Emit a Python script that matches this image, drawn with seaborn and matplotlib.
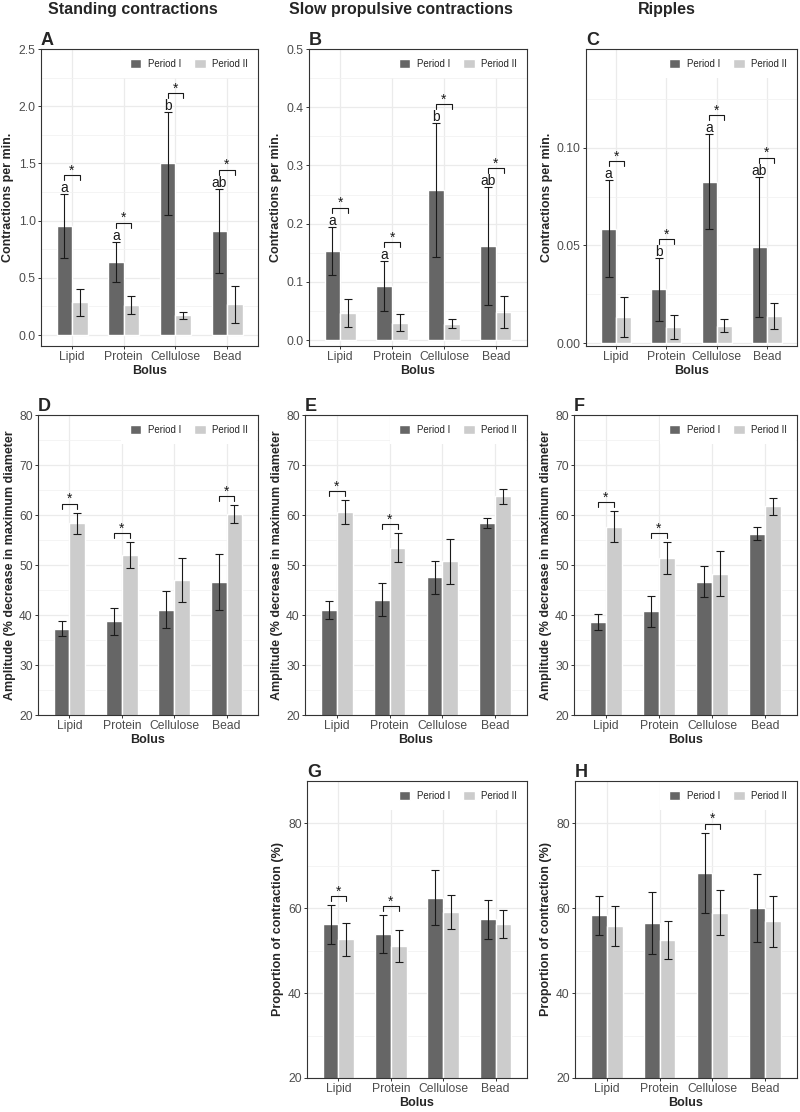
import numpy as np
import pandas as pd
import matplotlib
matplotlib.use('Agg')
import matplotlib.pyplot as plt
import seaborn as sns
from matplotlib.ticker import StrMethodFormatter

#--- categories
bolus = ['Lipid', 'Protein', 'Cellulose', 'Bead']
periods = ['Period I', 'Period II']

#--- A: standing contractions, frequency (mean, se)
a_p1 = [0.95, 0.64, 1.50, 0.91]
a_se1 = [0.28, 0.177, 0.45, 0.37]
a_p2 = [0.285, 0.26, 0.172, 0.27]
a_se2 = [0.117, 0.078, 0.029, 0.161]
#--- B: slow propulsive contractions, frequency
b_p1 = [0.153, 0.092, 0.258, 0.162]
b_se1 = [0.042, 0.043, 0.115, 0.101]
b_p2 = [0.046, 0.030, 0.028, 0.048]
b_se2 = [0.024, 0.015, 0.008, 0.028]
#--- C: ripples, frequency
c_p1 = [0.0586, 0.0276, 0.0826, 0.0492]
c_se1 = [0.0246, 0.016, 0.0242, 0.0359]
c_p2 = [0.0135, 0.0083, 0.0090, 0.0140]
c_se2 = [0.0103, 0.0063, 0.0032, 0.0067]
#--- D-F: amplitude
d_p1 = [37.3, 38.8, 41.1, 46.6]
d_se1 = [1.45, 2.7, 3.65, 5.6]
d_p2 = [58.4, 52.0, 47.0, 60.2]
d_se2 = [2.1, 2.55, 4.4, 1.8]
e_p1 = [41.0, 43.1, 47.6, 58.5]
e_se1 = [1.75, 3.3, 3.3, 1.0]
e_p2 = [60.6, 53.5, 50.8, 63.8]
e_se2 = [2.35, 2.9, 4.5, 1.5]
f_p1 = [38.6, 40.8, 46.7, 56.3]
f_se1 = [1.55, 3.1, 3.1, 1.3]
f_p2 = [57.7, 51.4, 48.3, 61.8]
f_se2 = [3.1, 3.2, 4.5, 1.7]
#--- G-H: proportion of contraction
g_p1 = [56.2, 54.0, 62.5, 57.4]
g_se1 = [4.5, 4.45, 6.5, 4.6]
g_p2 = [52.7, 51.2, 59.2, 56.4]
g_se2 = [3.9, 3.75, 4.0, 3.3]
h_p1 = [58.4, 56.5, 68.4, 60.0]
h_se1 = [4.6, 7.3, 9.4, 8.0]
h_p2 = [55.8, 52.5, 58.9, 56.9]
h_se2 = [4.75, 4.5, 5.3, 5.95]

#--- letters over Period I bars, and significant Period I vs II pairs
ab_letters = ['a', 'a', 'b', 'ab']
c_letters = ['a', 'b', 'a', 'ab']
sig_all = [1, 1, 1, 1]
sig_d = [1, 1, 0, 1]
sig_ef = [1, 1, 0, 0]
sig_h = [0, 0, 1, 0]

col_titles = ['Standing contractions', 'Slow propulsive contractions', 'Ripples']
freq_label = 'Contractions per min.'
amp_label = 'Amplitude (% decrease in maximum diameter'
prop_label = 'Proportion of contraction (%)'

sns.set_theme(style='white')
plt.rcParams['font.family'] = ['Liberation Sans', 'DejaVu Sans']

W, H = 800, 1112
fig = plt.figure(figsize=(W / 100, H / 100), dpi=100)
fig.patch.set_facecolor('white')


def px2data(ax, px):
    y0, y1 = ax.get_ylim()
    return px * (y1 - y0) / ax.get_window_extent().height


def panel(box, tag, p1, se1, p2, se2, ylim, major, minor, fmt, ylabel,
          letters=None, sig=None, lpad=3):
    l, t, r, b = box
    ax = fig.add_axes([l / W, 1 - b / H, (r - l) / W, (b - t) / H])
    df = pd.DataFrame({'Bolus': bolus * 2,
                       'Period': [periods[0]] * 4 + [periods[1]] * 4,
                       'value': p1 + p2})
    sns.barplot(data=df, x='Bolus', y='value', hue='Period',
                hue_order=periods, palette=['#666666', '#CCCCCC'],
                saturation=1, width=0.6, errorbar=None, ax=ax, zorder=2)
    xs = []
    for cont, m, s in zip(ax.containers, [p1, p2], [se1, se2]):
        x = [p.get_x() + p.get_width() / 2 for p in cont]
        xs.append(x)
        ax.errorbar(x, m, yerr=s, fmt='none', ecolor='#1a1a1a',
                    elinewidth=0.8, capsize=2.8, capthick=0.8, zorder=3)
    ax.set_xlim(-0.6, 3.6)
    ax.set_ylim(*ylim)
    ax.set_yticks(major)
    ax.set_yticks(minor, minor=True)
    ax.yaxis.set_major_formatter(StrMethodFormatter(fmt))
    ax.grid(which='major', color='#EBEBEB', lw=0.9)
    ax.grid(which='minor', axis='y', color='#F2F2F2', lw=0.6)
    ax.set_axisbelow(True)
    ax.tick_params(which='major', length=2.3, width=0.7, color='#333333',
                   labelsize=8.7, labelcolor='#4D4D4D', pad=1.5,
                   left=True, bottom=True)
    ax.tick_params(which='minor', length=0)
    for sp in ax.spines.values():
        sp.set_color('#333333')
        sp.set_linewidth(0.8)
        sp.set_zorder(6)
    ax.set_xlabel('Bolus', fontsize=9, fontweight='bold', labelpad=1)
    ax.set_ylabel(ylabel, fontsize=9, fontweight='bold', labelpad=lpad)
    leg = ax.legend(loc='upper right', ncol=2, fontsize=7, frameon=True,
                    facecolor='white', edgecolor='none', framealpha=1,
                    fancybox=False, handlelength=1.15, handleheight=1.15,
                    handletextpad=0.7, columnspacing=1.4, borderpad=0.9,
                    borderaxespad=0.1, title=None)
    leg.set_zorder(5)
    fig.text(l / W, 1 - (t - 4) / H, tag, fontsize=13, fontweight='bold',
             ha='left', va='baseline')

    tick = px2data(ax, 5)
    for i in range(4):
        top1 = p1[i] + se1[i]
        top = max(top1, p2[i] + se2[i])
        off = 9
        if letters:
            ax.text(xs[0][i], top1 + px2data(ax, 2), letters[i], fontsize=10,
                    ha='center', va='baseline', color='#1a1a1a', zorder=4)
            off = 19
        if sig and sig[i]:
            yb = top + px2data(ax, off)
            x1, x2 = xs[0][i], xs[1][i]
            ax.plot([x1, x1, x2, x2], [yb - tick, yb, yb, yb - tick],
                    color='#1a1a1a', lw=0.8, zorder=4)
            ax.text((x1 + x2) / 2, yb + px2data(ax, 0.5), '*', fontsize=10,
                    ha='center', va='baseline', color='#1a1a1a', zorder=4)
    return ax


f1 = '{x:.1f}'
f2 = '{x:.2f}'
f0 = '{x:.0f}'
amp_major = np.arange(20, 81, 10)
amp_minor = np.arange(25, 80, 10)

panel((41, 49, 258, 346), 'A', a_p1, a_se1, a_p2, a_se2, (-0.096, 2.5),
      np.arange(0, 2.51, 0.5), np.arange(0.25, 2.5, 0.5), f1, freq_label,
      ab_letters, sig_all)
panel((309, 49, 527, 346), 'B', b_p1, b_se1, b_p2, b_se2, (-0.0103, 0.5),
      np.arange(0, 0.51, 0.1), np.arange(0.05, 0.5, 0.1), f1, freq_label,
      ab_letters, sig_all)
panel((586, 49, 797, 346), 'C', c_p1, c_se1, c_p2, c_se2, (-0.0014, 0.1504),
      [0, 0.05, 0.10], [0.025, 0.075, 0.125], f2, freq_label,
      c_letters, sig_all)
panel((38, 415, 258, 715), 'D', d_p1, d_se1, d_p2, d_se2, (20, 80),
      amp_major, amp_minor, f0, amp_label, None, sig_d, lpad=2)
panel((305, 415, 527, 715), 'E', e_p1, e_se1, e_p2, e_se2, (20, 80),
      amp_major, amp_minor, f0, amp_label, None, sig_ef, lpad=2)
panel((574, 415, 797, 715), 'F', f_p1, f_se1, f_p2, f_se2, (20, 80),
      amp_major, amp_minor, f0, amp_label, None, sig_ef, lpad=2)
panel((307, 781, 527, 1078), 'G', g_p1, g_se1, g_p2, g_se2, (20, 90),
      [20, 40, 60, 80], [30, 50, 70, 90], f0, prop_label, None, sig_ef)
panel((575, 781, 797, 1078), 'H', h_p1, h_se1, h_p2, h_se2, (20, 90),
      [20, 40, 60, 80], [30, 50, 70, 90], f0, prop_label, None, sig_h)

for xc, title in zip([133, 401, 667], col_titles):
    fig.text(xc / W, 1 - 14 / H, title, fontsize=11.5, fontweight='bold',
             ha='center', va='baseline')

fig.savefig('out.png', dpi=100, facecolor='white')
